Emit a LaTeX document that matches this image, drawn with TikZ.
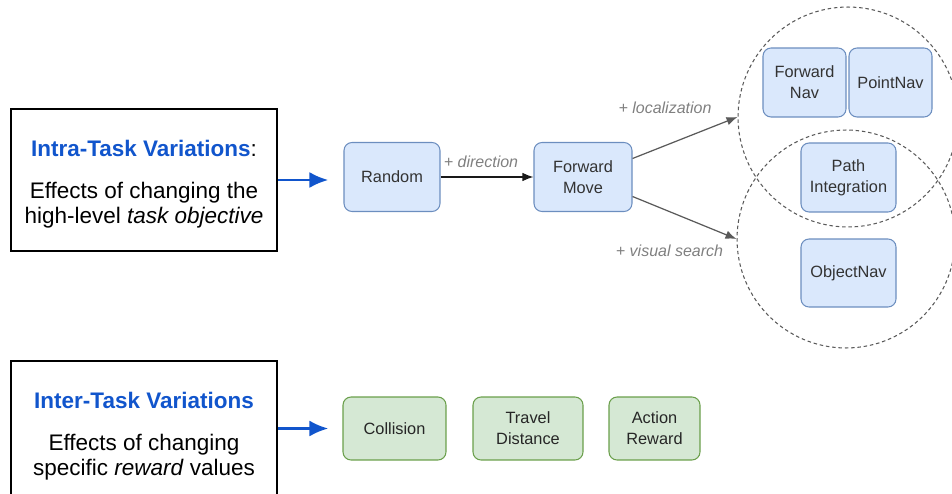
\documentclass[tikz,border=0pt]{standalone}
\usepackage{fontspec}
\setmainfont{Liberation Sans}
\usetikzlibrary{arrows.meta,positioning,shapes}

\definecolor{titleblue}{HTML}{1155CC}
\definecolor{navfill}{HTML}{DAE8FC}
\definecolor{navline}{HTML}{6C8EBF}
\definecolor{rewfill}{HTML}{D5E8D4}
\definecolor{rewline}{HTML}{6A9F4B}
\definecolor{linkgray}{HTML}{5A5A5A}

\tikzset{
  varbox/.style={draw=black, line width=1.1pt, minimum width=5.32cm, minimum height=2.84cm, align=center,
    font=\fontsize{12.8}{14.3}\selectfont},
  navbox/.style={draw=navline, fill=navfill, rounded corners=0.16cm, line width=0.6pt, align=center,
    minimum height=1.38cm, font=\fontsize{9.3}{12}\selectfont, text=black!80},
  rewbox/.style={draw=rewline, fill=rewfill, rounded corners=0.16cm, line width=0.6pt, align=center,
    minimum height=1.26cm, font=\fontsize{9.3}{12}\selectfont, text=black!85},
  group/.style={draw=linkgray, circle, dash pattern=on 2pt off 1.6pt, line width=0.6pt, inner sep=0pt},
  pick/.style={-{Latex[length=0.38cm, width=0.32cm]}, draw=titleblue, line width=1.7pt},
  nextstep/.style={-{Latex[length=0.22cm, width=0.17cm]}, line width=0.7pt},
  plus/.style={font=\fontsize{9.1}{11}\selectfont\itshape, text=black!50},
}

\begin{document}
\begin{tikzpicture}[x=0.02cm, y=-0.02cm]
\useasboundingbox (0,0) rectangle (952,493);
\clip (0,0) rectangle (952,493);

% the two kinds of variation
\node[varbox] (intra) at (144,180) {\textcolor{titleblue}{\textbf{Intra-Task Variations}}:\\[9.5pt]
  Effects of changing the\\ high-level \textit{task objective}\\[-16.5pt]};
\node[varbox] (inter) at (144,432) {\textcolor{titleblue}{\textbf{Inter-Task Variations}}\\[9.5pt]
  Effects of changing\\ specific \textit{reward} values\\[-16.5pt]};

% task objectives
\node[navbox, minimum width=1.92cm] (random) at (392,177) {Random};
\node[navbox, minimum width=1.96cm] (fwdmove) at (583,177) {Forward\\Move};
\node[group, minimum size=4.4cm] (loccirc) at (848,117) {};
\node[group, minimum size=4.36cm] (searchcirc) at (846,239) {};
\node[navbox, minimum width=1.66cm] (fwdnav) at (804.5,82.5) {Forward\\Nav};
\node[navbox, minimum width=1.66cm] (pointnav) at (890.5,82.5) {PointNav};
\node[navbox, minimum width=1.9cm] (pathint) at (848.5,177.5) {Path\\Integration};
\node[navbox, minimum width=1.9cm, minimum height=1.36cm] (objnav) at (848.5,273) {ObjectNav};

% reward values
\node[rewbox, minimum width=2.06cm] (collision) at (394.5,428.5) {Collision};
\node[rewbox, minimum width=2.2cm] (travel) at (528,428.5) {Travel\\Distance};
\node[rewbox, minimum width=1.82cm] (action) at (654.5,428.5) {Action\\Reward};

% links
\draw[pick, shorten >=0.3cm] (intra.east) -- (intra.east -| random.west);
\draw[pick, shorten >=0.28cm] (inter.east |- collision) -- (collision.west);
\draw[nextstep, draw=black!90] (random) -- (fwdmove) node[plus, midway, above=0.06cm, xshift=-0.12cm] {+ direction};
\draw[nextstep, draw=linkgray] ([yshift=0.37cm]fwdmove.east) -- (loccirc.west)
  node[plus, midway, above=0.35cm, xshift=-0.4cm] {+ localization};
\draw[nextstep, draw=linkgray] ([yshift=-0.39cm]fwdmove.east) -- (searchcirc.west)
  node[plus, midway, below=0.42cm, xshift=-0.3cm] {+ visual search};
\end{tikzpicture}
\end{document}
